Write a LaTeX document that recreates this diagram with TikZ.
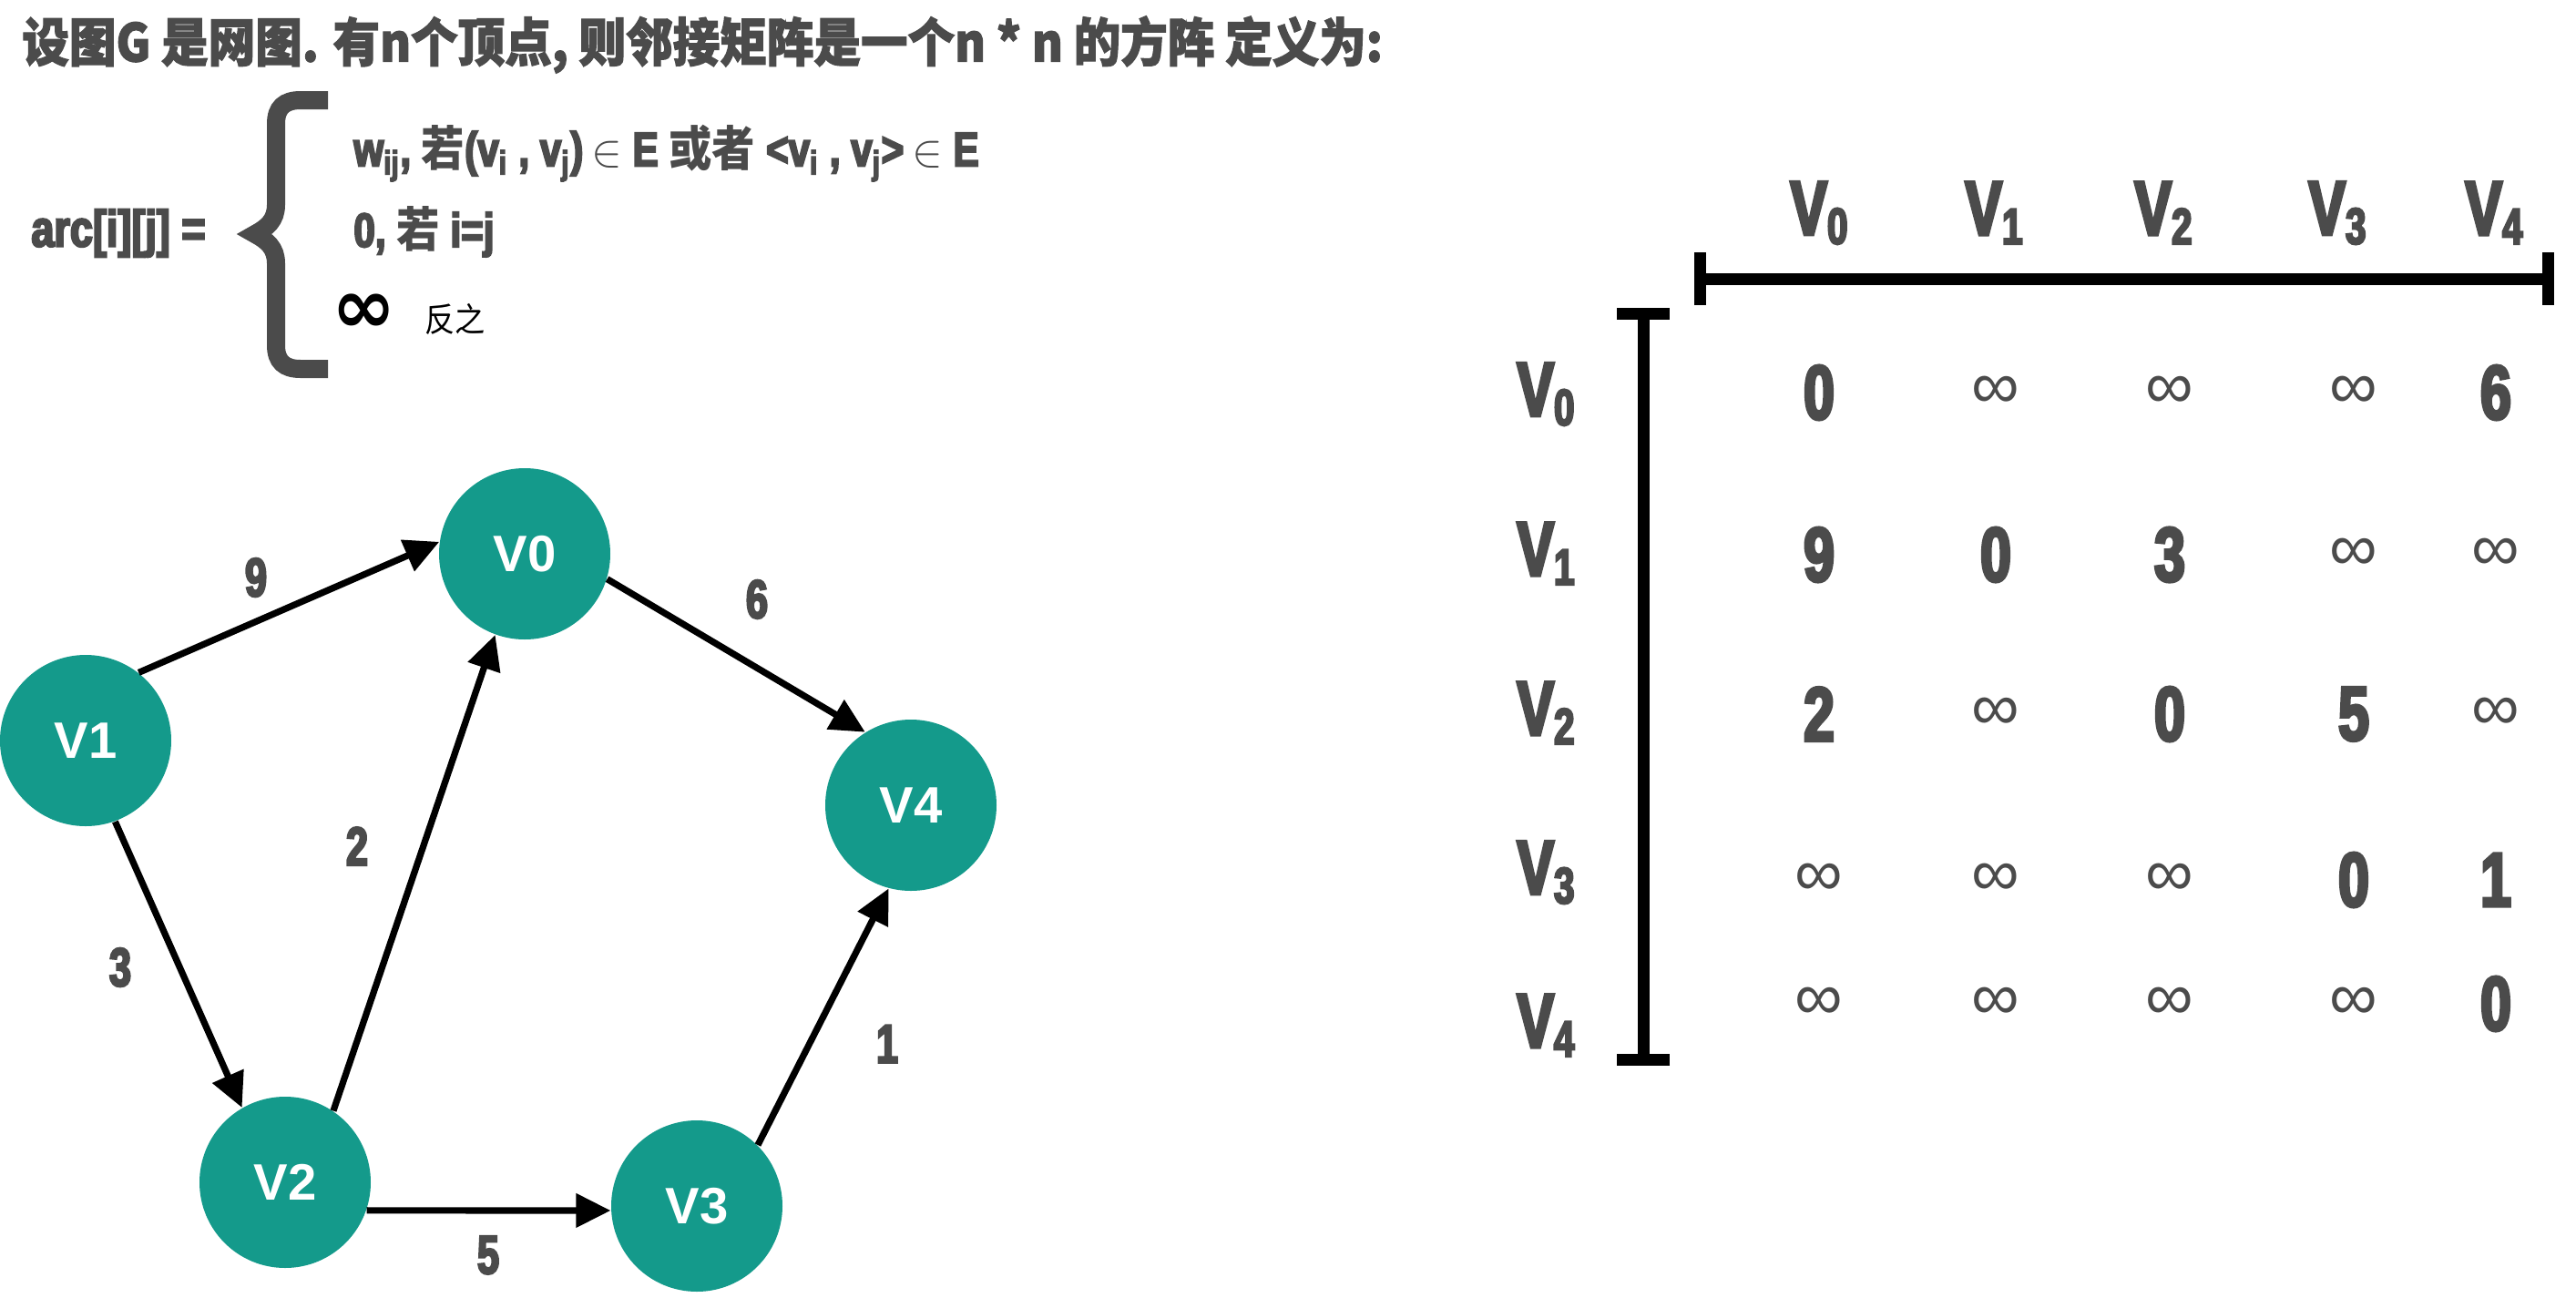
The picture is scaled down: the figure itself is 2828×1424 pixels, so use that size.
\documentclass[tikz,border=0pt]{standalone}
\usepackage{fontspec}
\setmainfont{Liberation Sans}
\newfontfamily\cjkfont[FakeStretch=0.9]{Noto Sans CJK SC}
\newfontfamily\titlefont[FakeStretch=0.9,FakeBold=2]{Noto Sans CJK SC}
\newfontfamily\narrowfont[FakeStretch=0.72,FakeBold=4]{Liberation Sans}
\newfontfamily\formulafont[FakeStretch=0.8,FakeBold=4]{Liberation Sans}
\newfontfamily\symbolfont{DejaVu Sans}
\usetikzlibrary{arrows.meta,positioning}

\definecolor{nodeteal}{HTML}{149A8B}
\definecolor{inkgray}{HTML}{4B4B4B}

\newcommand{\zh}[1]{{\cjkfont\bfseries #1}}
\newcommand{\inft}{{\mdseries\rmfamily\fontsize{21}{21}\selectfont ∞}}
\newcommand{\vname}[1]{V\raisebox{-0.12em}{\fontsize{16}{16}\selectfont #1}}

\begin{document}
\begin{tikzpicture}[
  x=0.1mm, y=-0.1mm,
  >={Triangle[length=3.8mm,width=3.6mm]},
  vertex/.style={
    circle,
    fill=nodeteal,
    minimum size=18.8mm,
    inner sep=0pt,
    text=white,
    font=\bfseries\fontsize{16}{16}\selectfont
  },
  weight/.style={text=inkgray, font=\narrowfont\bfseries\fontsize{17}{17}\selectfont},
  edge/.style={->, line width=0.72mm},
  cell/.style={text=inkgray, font=\narrowfont\bfseries\fontsize{24}{24}\selectfont},
  axis/.style={line width=1.3mm, {Bar[width=5.8mm]}-{Bar[width=5.8mm]}},
  formula/.style={anchor=west, text=inkgray, font=\formulafont\bfseries\fontsize{15}{15}\selectfont},
  brace/.style={draw=inkgray, line width=2mm, line join=miter}
]
\useasboundingbox (0,0) rectangle (2828,1424);

% Definition
\node[anchor=west, text=inkgray, font=\titlefont\bfseries\fontsize{16.3}{16.3}\selectfont] (title) at (12,49)
  {设图G 是网图. 有n个顶点, 则邻接矩阵是一个n * n 的方阵 定义为:};
\node[formula, font=\formulafont\bfseries\fontsize{16}{16}\selectfont] (arcdef) at (22,256) {arc[i][j] =};
\draw[brace] (360,110) -- (330,110) .. controls (312,110) and (303,118) .. (303,136) -- (303,225)
  .. controls (303,242) and (293,250) .. (280,257) .. controls (293,264) and (303,272) .. (303,289)
  -- (303,379) .. controls (303,397) and (312,405) .. (330,405) -- (360,405);
\node[formula] (case1) at (376,168)
  {w\textsubscript{ij}, \zh{若}(v\textsubscript{i} , v\textsubscript{j})\,$\in$ E \zh{或者} <v\textsubscript{i} , v\textsubscript{j}>\,$\in$ E};
\node[formula] (case2) at (376,254) {0, \zh{若} i=j};
\node[formula, text=black, font=\symbolfont\bfseries\fontsize{24}{24}\selectfont] (case3) at (352,344) {∞};
\node[formula, text=black, font=\cjkfont\fontsize{10.5}{10.5}\selectfont] (case3txt) at (454,350) {反之};

% Graph
\node[vertex] (V0) at (576,608) {V0};
\node[vertex] (V1) at (94,813) {V1};
\node[vertex] (V2) at (313,1298) {V2};
\node[vertex] (V3) at (765,1324) {V3};
\node[vertex] (V4) at (1000,884) {V4};

\draw[edge] (V1.52) -- (V0.172);
\draw[edge] (V0.-17) -- (V4.122);
\draw[edge] (V2.56) -- (V0.-110);
\draw[edge] (V1.-70) -- (V2.120);
\draw[edge] (V2.-19) -- (V3.183);
\draw[edge] (V3.45) -- (V4.-105);

\node[weight] (w10) at (281,634) {9};
\node[weight] (w04) at (831,658) {6};
\node[weight] (w20) at (392,929) {2};
\node[weight] (w12) at (132,1062) {3};
\node[weight] (w34) at (974,1146) {1};
\node[weight] (w23) at (536,1378) {5};

% Matrix
\coordinate (hleft) at (1860,306);
\coordinate (hright) at (2804,306);
\coordinate (vtop) at (1804,338);
\coordinate (vbottom) at (1804,1170);
\draw[axis] (hleft) -- (hright);
\draw[axis] (vtop) -- (vbottom);

\foreach \k/\xx in {0/1997,1/2189,2/2375,3/2566,4/2738}
  \node[cell] (col\k) at (\xx,234) {\vname{\k}};
\foreach \k/\yy in {0/433,1/608,2/783,3/958,4/1126}
  \node[cell] (row\k) at (1697,\yy) {\vname{\k}};

\foreach \yy/\entries [count=\r from 0] in {431/{0,\inft,\inft,\inft,6}, 609/{9,0,3,\inft,\inft},
    784/{2,\inft,0,5,\inft}, 966/{\inft,\inft,\inft,0,1}, 1102/{\inft,\inft,\inft,\inft,0}}
  \foreach \e [count=\c from 0] in \entries {
    \pgfmathsetmacro{\xx}{{1997,2191,2382,2584,2740}[\c]}
    \node[cell] (m\r\c) at (\xx,\yy) {\e};
  }

\end{tikzpicture}
\end{document}
